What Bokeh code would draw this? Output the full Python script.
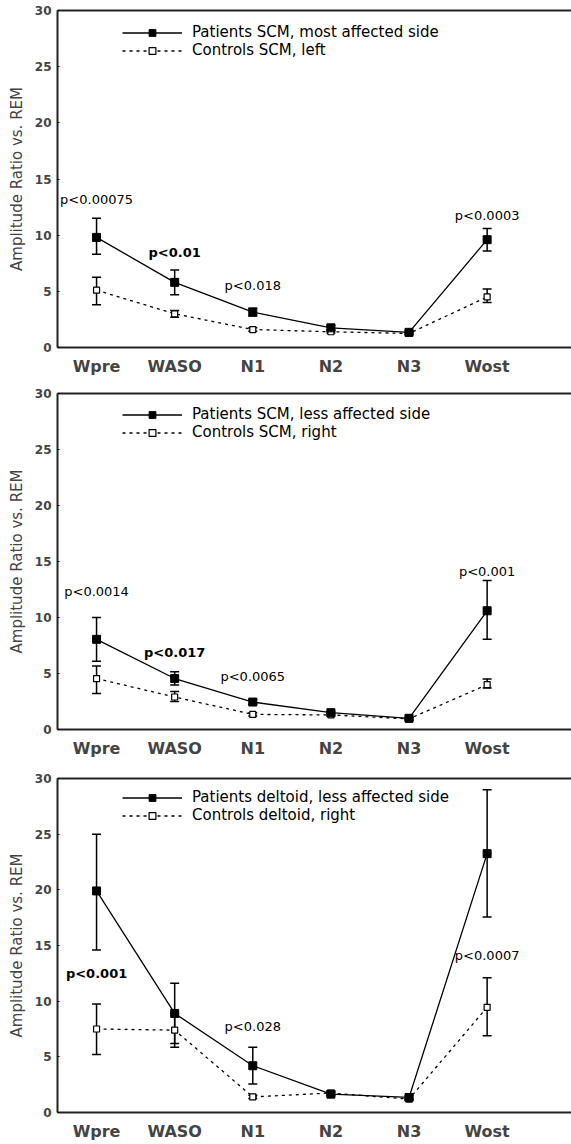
from bokeh.plotting import figure
from bokeh.models import (ColumnDataSource, FixedTicker, Whisker, TeeHead, Legend,
                          LegendItem, LinearAxis, Range1d)
from bokeh.layouts import column
from bokeh.embed import file_html
from bokeh.resources import INLINE
from bokeh.core.properties import value

FONT = "DejaVu Sans"

stages = ["Wpre", "WASO", "N1", "N2", "N3", "Wost"]
yticks = [0, 5, 10, 15, 20, 25, 30]

# Panel 1: SCM, most affected side vs controls left
p1_mean = [9.8, 5.8, 3.15, 1.75, 1.35, 9.6]
p1_lo = [8.3, 4.7, 2.8, 1.55, 1.2, 8.6]
p1_hi = [11.5, 6.9, 3.5, 1.95, 1.5, 10.6]
c1_mean = [5.1, 3.0, 1.6, 1.4, 1.25, 4.5]
c1_lo = [3.8, 2.7, 1.45, 1.3, 1.15, 4.0]
c1_hi = [6.25, 3.3, 1.75, 1.5, 1.35, 5.2]
p1_labels = ["p<0.00075", "p<0.01", "p<0.018", "p<0.0003"]
p1_label_stage = ["Wpre", "WASO", "N1", "Wost"]
p1_label_y = [13.2, 8.5, 5.5, 11.75]
p1_label_bold = [False, True, False, False]

# Panel 2: SCM, less affected side vs controls right
p2_mean = [8.05, 4.55, 2.45, 1.5, 1.0, 10.6]
p2_lo = [6.1, 3.97, 2.25, 1.4, 0.9, 8.06]
p2_hi = [10.0, 5.16, 2.65, 1.6, 1.1, 13.3]
c2_mean = [4.55, 2.9, 1.35, 1.3, 0.95, 4.0]
c2_lo = [3.22, 2.5, 1.2, 1.2, 0.85, 3.7]
c2_hi = [5.67, 3.4, 1.5, 1.4, 1.05, 4.5]
p2_labels = ["p<0.0014", "p<0.017", "p<0.0065", "p<0.001"]
p2_label_stage = ["Wpre", "WASO", "N1", "Wost"]
p2_label_y = [12.3, 6.9, 4.7, 14.1]
p2_label_bold = [False, True, False, False]

# Panel 3: deltoid, less affected side vs controls right
p3_mean = [19.9, 8.9, 4.2, 1.65, 1.35, 23.25]
p3_lo = [14.6, 6.2, 2.55, 1.5, 1.2, 17.55]
p3_hi = [25.0, 11.6, 5.85, 1.8, 1.5, 29.0]
c3_mean = [7.5, 7.4, 1.4, 1.75, 1.2, 9.45]
c3_lo = [5.2, 5.85, 1.25, 1.6, 1.1, 6.9]
c3_hi = [9.75, 8.9, 1.55, 1.9, 1.3, 12.1]
p3_labels = ["p<0.001", "p<0.028", "p<0.0007"]
p3_label_stage = ["Wpre", "N1", "Wost"]
p3_label_y = [12.45, 7.74, 14.1]
p3_label_bold = [True, False, False]

legend_p = ["Patients SCM, most affected side", "Patients SCM, less affected side",
            "Patients deltoid, less affected side"]
legend_c = ["Controls SCM, left", "Controls SCM, right", "Controls deltoid, right"]


def make_panel(pm, plo, phi, cm, clo, chi, labels, lab_stage, lab_y, lab_bold,
               leg_p, leg_c, height, top, bottom):
    p = figure(width=571, height=height, x_range=Range1d(-0.5, 6.08),
               y_range=Range1d(0, 30), output_backend="svg", toolbar_location=None,
               min_border_left=57, min_border_right=0, min_border_top=top,
               min_border_bottom=bottom)
    p.outline_line_color = None
    p.grid.visible = False
    p.background_fill_color = "white"
    p.border_fill_color = "white"

    xs = list(range(len(stages)))
    psrc = ColumnDataSource(dict(x=xs, m=pm, lo=plo, hi=phi))
    csrc = ColumnDataSource(dict(x=xs, m=cm, lo=clo, hi=chi))

    for src in (csrc, psrc):
        w = Whisker(source=src, base="x", upper="hi", lower="lo",
                    line_color="black", line_width=1.5,
                    upper_head=TeeHead(size=9, line_width=1.5, line_color="black"),
                    lower_head=TeeHead(size=9, line_width=1.5, line_color="black"))
        p.add_layout(w)

    cl = p.line("x", "m", source=csrc, line_color="black", line_width=1.3,
                line_dash="3 4")
    cs = p.scatter("x", "m", source=csrc, marker="square", size=6,
                   fill_color="white", line_color="black", line_width=1.2)
    pl = p.line("x", "m", source=psrc, line_color="black", line_width=1.3)
    ps = p.scatter("x", "m", source=psrc, marker="square", size=8,
                   fill_color="black", line_color="black")

    lsrc = ColumnDataSource(dict(
        x=[stages.index(s) for s in lab_stage], y=lab_y, t=labels,
        fs=["bold" if b else "normal" for b in lab_bold]))
    p.text("x", "y", text="t", source=lsrc, text_font=value(FONT),
           text_font_size="13px", text_font_style="fs", text_align="center",
           text_baseline="middle", text_color="black")

    legend = Legend(items=[LegendItem(label=leg_p, renderers=[pl, ps]),
                           LegendItem(label=leg_c, renderers=[cl, cs])],
                    location=(65, 288), glyph_width=60, glyph_height=17,
                    label_height=17, label_standoff=10, spacing=0, padding=0,
                    margin=0, border_line_color=None, background_fill_alpha=0,
                    label_text_font=FONT, label_text_font_size="15px",
                    label_text_color="black")
    p.add_layout(legend)

    xa = p.below[0]
    xa.ticker = FixedTicker(ticks=xs)
    xa.major_label_overrides = {i: s for i, s in enumerate(stages)}
    xa.major_label_text_font = FONT
    xa.major_label_text_font_style = "bold"
    xa.major_label_text_font_size = "16px"
    xa.major_label_standoff = 3
    xa.major_tick_line_color = None
    xa.minor_tick_line_color = None
    xa.axis_line_width = 2
    xa.axis_line_color = "#222222"

    ya = p.left[0]
    ya.ticker = FixedTicker(ticks=yticks)
    ya.major_label_text_font = FONT
    ya.major_label_text_font_style = "bold"
    ya.major_label_text_font_size = "12px"
    ya.major_label_standoff = 6
    ya.major_tick_in = 2
    ya.major_tick_out = 0
    ya.minor_tick_line_color = None
    ya.axis_line_width = 2
    ya.axis_line_color = "#222222"
    ya.axis_label = "Amplitude Ratio vs. REM"
    ya.axis_label_text_font = FONT
    ya.axis_label_text_font_style = "normal"
    ya.axis_label_text_font_size = "15px"
    ya.axis_label_standoff = 6

    # top border line (no ticks, no labels)
    top_ax = LinearAxis(ticker=FixedTicker(ticks=[]), major_label_text_font_size="0px",
                        major_label_standoff=0, major_tick_line_color=None,
                        major_tick_in=0, major_tick_out=0,
                        minor_tick_line_color=None, axis_line_width=2,
                        axis_line_color="#222222")
    p.add_layout(top_ax, "above")
    return p


f1 = make_panel(p1_mean, p1_lo, p1_hi, c1_mean, c1_lo, c1_hi, p1_labels, p1_label_stage,
                p1_label_y, p1_label_bold, legend_p[0], legend_c[0], 381, 10, 34)
f2 = make_panel(p2_mean, p2_lo, p2_hi, c2_mean, c2_lo, c2_hi, p2_labels, p2_label_stage,
                p2_label_y, p2_label_bold, legend_p[1], legend_c[1], 382, 12, 34)
f3 = make_panel(p3_mean, p3_lo, p3_hi, c3_mean, c3_lo, c3_hi, p3_labels, p3_label_stage,
                p3_label_y, p3_label_bold, legend_p[2], legend_c[2], 380, 15, 31)

layout = column(f1, f2, f3, spacing=0)
open("out.html", "w").write(file_html(layout, INLINE))
